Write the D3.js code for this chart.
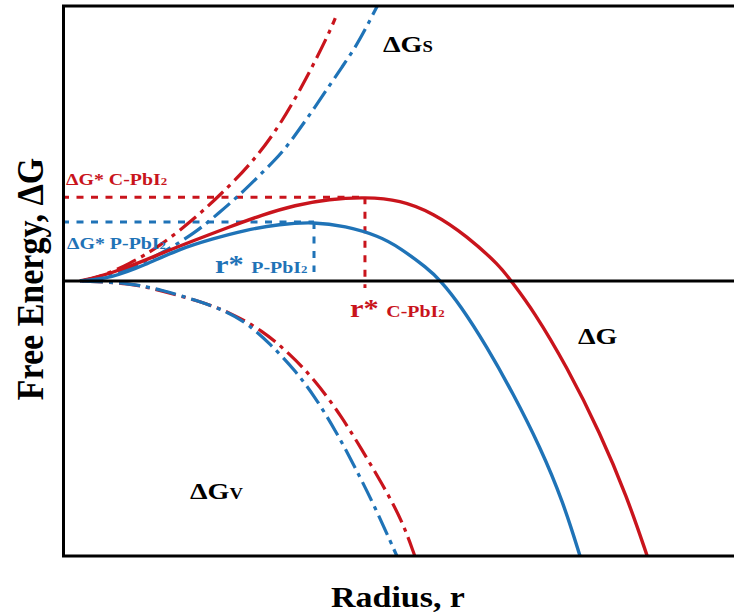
<!DOCTYPE html>
<html>
<head>
<meta charset="utf-8">
<script src="https://cdn.jsdelivr.net/npm/d3@7"></script>
<style>
  body { margin: 0; background: #fff; }
  text { font-family: "Liberation Serif", "Times New Roman", serif; font-weight: bold; }
</style>
</head>
<body>
<div id="chart"></div>
<script>
// curves: [radius, free energy] in arbitrary units
var dgC = [[0.32, 0], [0.59, 0.11], [1.20, 0.51], [1.79, 1.02], [2.38, 1.49], [2.98, 1.96],
  [3.57, 2.40], [4.16, 2.76], [4.77, 2.98], [5.41, 3.05], [6.04, 2.95], [6.63, 2.47],
  [7.23, 1.64], [7.82, 0.55], [8.02, 0], [8.41, -1.05], [9.02, -3.13], [9.61, -5.53],
  [10.09, -7.85], [10.45, -10]];
var dgP = [[0.32, 0], [0.89, 0.11], [1.48, 0.58], [2.09, 1.16], [2.68, 1.53], [3.27, 1.85],
  [3.88, 2.07], [4.50, 2.15], [5.05, 2.00], [5.66, 1.64], [6.04, 1.20], [6.52, 0.47],
  [6.75, 0.04], [7.11, -0.87], [7.59, -2.40], [8.05, -4.07], [8.54, -6.04], [8.95, -8.04],
  [9.25, -10]];
var dgsC = [[0.36, 0], [0.68, 0.15], [1.21, 0.62], [1.75, 1.27], [2.38, 2.29], [2.86, 3.20],
  [3.36, 4.22], [3.88, 5.60], [4.38, 7.42], [4.77, 9.02], [4.88, 9.56]];
var dgsP = [[0.36, 0], [1.20, 0.40], [1.79, 1.02], [2.38, 1.75], [2.80, 2.47], [3.21, 3.20],
  [3.57, 3.93], [3.93, 4.65], [4.23, 5.49], [4.52, 6.33], [4.77, 7.09], [5.00, 7.78],
  [5.23, 8.47], [5.41, 9.13], [5.63, 10]];
var dgvC = [[0.36, 0], [1.20, -0.07], [1.79, -0.36], [2.50, -0.76], [2.98, -1.13], [3.57, -1.78],
  [4.05, -2.62], [4.52, -3.60], [5.00, -4.95], [5.36, -6.15], [5.71, -7.35], [6.07, -8.69],
  [6.30, -10]];
var dgvP = [[0.36, 0], [1.20, -0.07], [1.79, -0.33], [2.38, -0.69], [2.98, -1.13], [3.34, -1.60],
  [3.70, -2.25], [4.16, -3.24], [4.52, -4.22], [4.88, -5.42], [5.23, -6.76], [5.59, -8.22],
  [5.98, -10]];

// critical radius / barrier for each film, and where the dotted drop line stops
var phases = ["C-PbI2", "P-PbI2"];
var rStar = [5.41, 4.50];
var gStar = [3.05, 2.15];
var dropEnd = [-0.25, 0.33];

var red = "#c9141c";
var blue = "#1f73b7";
var stretch = 1.17; // lettering in the figure is a bit wide

var svgWidth = 734;
var svgHeight = 615;

var margin = { top: 6, right: 0, bottom: 59, left: 62 };
var width = svgWidth - margin.left - margin.right;
var height = svgHeight - margin.top - margin.bottom;

var svg = d3.select("#chart")
  .append("svg")
  .attr("width", svgWidth)
  .attr("height", svgHeight);

var chartGroup = svg.append("g")
  .attr("transform", `translate(${margin.left}, ${margin.top})`);

var x = d3.scaleLinear().domain([0, 12]).range([0, width]);
var y = d3.scaleLinear().domain([-10, 10]).range([height, 0]);

// read points are a little noisy, so smooth with a B-spline
var line = d3.line()
  .x(d => x(d[0]))
  .y(d => y(d[1]))
  .curve(d3.curveBasis);

// dotted guides to the barrier
phases.forEach(function(p, i) {
  var c = i === 0 ? red : blue;
  chartGroup.append("line")
    .attr("x1", x(0)).attr("x2", x(rStar[i]))
    .attr("y1", y(gStar[i])).attr("y2", y(gStar[i]))
    .attr("stroke", c).attr("stroke-width", 3)
    .attr("stroke-dasharray", "7,7.5");
  chartGroup.append("line")
    .attr("x1", x(rStar[i])).attr("x2", x(rStar[i]))
    .attr("y1", y(gStar[i])).attr("y2", y(dropEnd[i]))
    .attr("stroke", c).attr("stroke-width", 3)
    .attr("stroke-dasharray", "7,7.5");
});

// surface and volume terms, dash-dot
[[dgsC, red], [dgsP, blue], [dgvC, red], [dgvP, blue]].forEach(function(s) {
  chartGroup.append("path")
    .datum(s[0])
    .attr("d", line)
    .attr("fill", "none")
    .attr("stroke", s[1])
    .attr("stroke-width", 3.2)
    .attr("stroke-dasharray", "21,6,4,6");
});

// total free energy
[[dgC, red], [dgP, blue]].forEach(function(s) {
  chartGroup.append("path")
    .datum(s[0])
    .attr("d", line)
    .attr("fill", "none")
    .attr("stroke", s[1])
    .attr("stroke-width", 3.4);
});

// frame (no right side) and zero line
chartGroup.append("path")
  .attr("d", `M${width},0H1.5V${height}H${width}`)
  .attr("fill", "none")
  .attr("stroke", "#000")
  .attr("stroke-width", 3);
chartGroup.append("line")
  .attr("x1", 0).attr("x2", width)
  .attr("y1", y(0)).attr("y2", y(0))
  .attr("stroke", "#000")
  .attr("stroke-width", 3);

// text helper: parts are [string, font size]
function label(px, py, parts, color, anchor, sx, rotate) {
  var g = svg.append("g")
    .attr("transform", `translate(${px}, ${py}) scale(${sx || stretch}, 1)` + (rotate ? " rotate(-90)" : ""));
  var t = g.append("text")
    .attr("fill", color)
    .attr("text-anchor", anchor || "start");
  parts.forEach(function(p) {
    t.append("tspan").attr("font-size", p[1]).text(p[0]);
  });
  return t;
}

label(66, 185, [["ΔG* C-PbI", 17], ["2", 11]], red);
label(67, 249, [["ΔG* P-PbI", 17], ["2", 11]], blue);
label(215, 273, [["r* ", 26], ["P-PbI", 17], ["2", 11]], blue);
label(350, 317, [["r* ", 26], ["C-PbI", 17], ["2", 11]], red);
label(383, 52, [["ΔG", 24], ["S", 16]], "#000");
label(190, 499, [["ΔG", 24], ["V", 16]], "#000");
label(578, 344, [["ΔG", 24]], "#000");

label(margin.left + width / 2, 607, [["Radius, r", 29]], "#000", "middle");
label(43, 279, [["Free Energy, ΔG", 34]], "#000", "middle", 1.12, true);
</script>
</body>
</html>
